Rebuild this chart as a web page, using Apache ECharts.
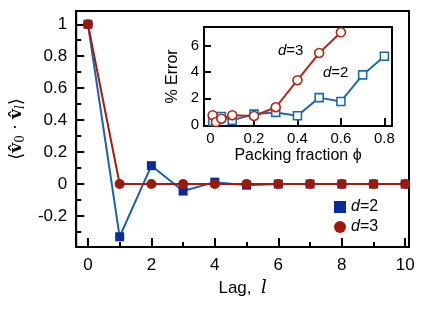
<!DOCTYPE html>
<html><head><meta charset="utf-8">
<script src="https://cdn.jsdelivr.net/npm/echarts@6/dist/echarts.min.js"></script>
<style>html,body{margin:0;padding:0;background:#fff}#c{width:421px;height:309px}</style>
</head><body><div id="c"></div>
<script>
// Main plot data
const lags = [0, 1, 2, 3, 4, 5, 6, 7, 8, 9, 10];
const corrD2 = [1, -0.33, 0.115, -0.044, 0.012, -0.007, 0, 0, 0, 0, 0];
const corrD3 = [1, 0, 0, 0, 0, 0, 0, 0, 0, 0, 0];
const mainXLabels = [0, 2, 4, 6, 8, 10];
const mainXMinor = [1, 3, 5, 7, 9];
const mainYLabels = [-0.2, 0, 0.2, 0.4, 0.6, 0.8, 1];
const mainYMinor = [-0.3, -0.1, 0.1, 0.3, 0.5, 0.7, 0.9];
// Inset data
const phiD2 = [0.01, 0.05, 0.1, 0.2, 0.3, 0.4, 0.5, 0.6, 0.7, 0.8];
const errD2 = [0.25, 0.62, 0.33, 0.8, 0.93, 0.68, 2.05, 1.76, 3.77, 5.18];
const phiD3 = [0.01, 0.025, 0.05, 0.1, 0.2, 0.3, 0.4, 0.5, 0.6];
const errD3 = [0.72, 0.2, 0.45, 0.72, 0.66, 1.32, 3.37, 5.43, 7.0];
const insetXLabels = [0, 0.2, 0.4, 0.6, 0.8];
const insetYLabels = [0, 2, 4, 6];

const FONT = 'Liberation Sans';
const BLUE_LINE = '#1b63a5', BLUE_MK = '#0c2a99';
const RED_LINE = '#a31d10', RED_MK = '#9b1a0b';
const IN_BLUE = '#1d6aa8', IN_RED = '#b02a1a';

const pair = (xs, ys) => xs.map((x, i) => [x, ys[i]]);
const chart = echarts.init(document.getElementById('c'), null, {renderer: 'canvas'});

const mainX = {min: -0.37, max: 10.12};
const mainY = {min: -0.394, max: 1.083};
const inX = {min: -0.03, max: 0.835};
const inY = {min: -0.1, max: 7.4};

chart.setOption({
  animation: false,
  textStyle: {fontFamily: FONT, color: '#000'},
  grid: [
    {left: 72, top: 11, width: 337, height: 236, show: true, borderColor: '#000', borderWidth: 2, backgroundColor: 'transparent'},
    {left: 204, top: 27, width: 188, height: 99, show: true, borderColor: '#000', borderWidth: 2, backgroundColor: '#fff'}
  ],
  xAxis: [
    {gridIndex: 0, type: 'value', position: 'bottom', ...mainX, splitLine: {show: false},
     axisLine: {onZero: false, lineStyle: {color: '#000', width: 2}},
     axisTick: {inside: true, length: 9, lineStyle: {color: '#000', width: 2}, customValues: mainXLabels},
     axisLabel: {customValues: mainXLabels, fontSize: 17, color: '#000', margin: 10, fontFamily: FONT},
     name: '{n|Lag,  }{i|l}', nameLocation: 'middle', nameGap: 32,
     nameTextStyle: {rich: {n: {fontSize: 17, fontFamily: FONT}, i: {fontSize: 18, fontStyle: 'italic', fontFamily: 'DejaVu Serif'}}}},
    {gridIndex: 0, type: 'value', position: 'bottom', ...mainX, splitLine: {show: false},
     axisLine: {show: false, onZero: false},
     axisTick: {inside: true, length: 5, lineStyle: {color: '#000', width: 2}, customValues: mainXMinor},
     axisLabel: {show: false}},
    {gridIndex: 1, type: 'value', position: 'bottom', ...inX, splitLine: {show: false},
     axisLine: {onZero: false, lineStyle: {color: '#000', width: 2}},
     axisTick: {inside: true, length: 8, lineStyle: {color: '#000', width: 2}, customValues: insetXLabels.slice(1)},
     axisLabel: {customValues: insetXLabels, fontSize: 15, color: '#000', margin: 5, fontFamily: FONT},
     name: 'Packing fraction ϕ', nameLocation: 'middle', nameGap: 22,
     nameTextStyle: {fontSize: 16, fontFamily: FONT, color: '#000'}}
  ],
  yAxis: [
    {gridIndex: 0, type: 'value', position: 'left', ...mainY, splitLine: {show: false},
     axisLine: {onZero: false, lineStyle: {color: '#000', width: 2}},
     axisTick: {inside: true, length: 8, lineStyle: {color: '#000', width: 2}, customValues: mainYLabels},
     axisLabel: {customValues: mainYLabels, fontSize: 17, color: '#000', margin: 9, fontFamily: FONT},
     name: '⟨{b|v̂}{s|0}{n| · }{b|v̂}{si|l}⟩', nameLocation: 'middle', nameGap: 47, nameRotate: 90,
     nameTextStyle: {fontSize: 18, fontFamily: 'DejaVu Serif', color: '#000',
       rich: {b: {fontSize: 17, fontWeight: 'bold', fontFamily: 'DejaVu Serif'},
              s: {fontSize: 12, fontFamily: 'DejaVu Serif', verticalAlign: 'bottom', padding: [8, 0, 0, 0]},
              si: {fontSize: 12, fontStyle: 'italic', fontFamily: 'DejaVu Serif', padding: [8, 0, 0, 0]},
              n: {fontSize: 17, fontFamily: 'DejaVu Serif'}}}},
    {gridIndex: 0, type: 'value', position: 'left', ...mainY, splitLine: {show: false},
     axisLine: {show: false, onZero: false},
     axisTick: {inside: true, length: 5, lineStyle: {color: '#000', width: 2}, customValues: mainYMinor},
     axisLabel: {show: false}},
    {gridIndex: 1, type: 'value', position: 'left', ...inY, splitLine: {show: false},
     axisLine: {onZero: false, lineStyle: {color: '#000', width: 2}},
     axisTick: {inside: true, length: 7, lineStyle: {color: '#000', width: 2}, customValues: insetYLabels.slice(1)},
     axisLabel: {customValues: insetYLabels, fontSize: 15, color: '#000', margin: 5, fontFamily: FONT},
     name: '% Error', nameLocation: 'middle', nameGap: 23, nameRotate: 90,
     nameTextStyle: {fontSize: 16, fontFamily: FONT, color: '#000'}}
  ],
  legend: {
    orient: 'vertical', left: 329, top: 194, itemGap: 4, itemWidth: 12, itemHeight: 12,
    data: [{name: 'd=2', icon: 'rect'}, {name: 'd=3', icon: 'circle'}],
    formatter: n => '{i|d}{t|=' + n.slice(2) + '}',
    textStyle: {rich: {i: {fontSize: 16, fontStyle: 'italic', fontFamily: FONT}, t: {fontSize: 16, fontFamily: FONT}}}
  },
  graphic: [
    {type: 'text', left: 278, top: 43, z: 100, style: {rich: {i: {fontSize: 15, fontStyle: 'italic', fontFamily: FONT}, t: {fontSize: 15, fontFamily: FONT}}, text: '{i|d}{t|=3}'}},
    {type: 'text', left: 323, top: 65, z: 100, style: {rich: {i: {fontSize: 15, fontStyle: 'italic', fontFamily: FONT}, t: {fontSize: 15, fontFamily: FONT}}, text: '{i|d}{t|=2}'}}
  ],
  series: [
    {name: 'd=2', type: 'line', xAxisIndex: 0, yAxisIndex: 0, data: pair(lags, corrD2),
     symbol: 'rect', symbolSize: 9, lineStyle: {color: BLUE_LINE, width: 2}, itemStyle: {color: BLUE_MK}, z: 3},
    {name: 'd=3', type: 'line', xAxisIndex: 0, yAxisIndex: 0, data: pair(lags, corrD3),
     symbol: 'circle', symbolSize: 10, lineStyle: {color: RED_LINE, width: 2}, itemStyle: {color: RED_MK}, z: 4},
    {name: 'in2', type: 'line', xAxisIndex: 2, yAxisIndex: 2, data: pair(phiD2, errD2),
     symbol: 'rect', symbolSize: 8, lineStyle: {color: IN_BLUE, width: 2},
     itemStyle: {color: '#fff', borderColor: IN_BLUE, borderWidth: 1.6}, z: 10},
    {name: 'in3', type: 'line', xAxisIndex: 2, yAxisIndex: 2, data: pair(phiD3, errD3),
     symbol: 'circle', symbolSize: 9, lineStyle: {color: IN_RED, width: 2},
     itemStyle: {color: '#fff', borderColor: IN_RED, borderWidth: 1.6}, z: 11}
  ]
});
</script></body></html>
